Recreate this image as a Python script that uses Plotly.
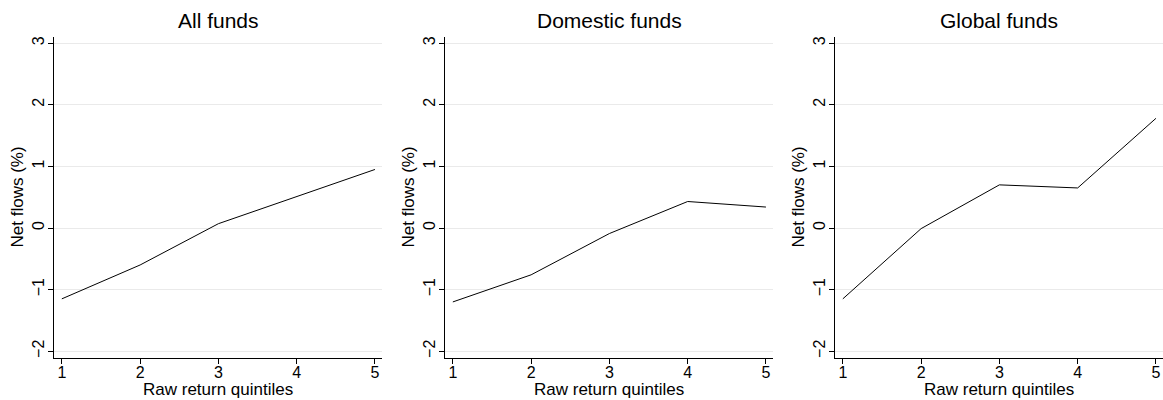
import plotly.graph_objects as go

quintiles = [1, 2, 3, 4, 5]
all_funds = [-1.15, -0.60, 0.07, 0.51, 0.95]
domestic_funds = [-1.20, -0.76, -0.09, 0.43, 0.34]
global_funds = [-1.15, -0.01, 0.70, 0.65, 1.78]
titles = ["All funds", "Domestic funds", "Global funds"]
y_ticks = [-2, -1, 0, 1, 2, 3]
x_ticks = [1, 2, 3, 4, 5]
x_title = "Raw return quintiles"
y_title = "Net flows (%)"

W, H = 1163, 400
panels = [(54, 382), (445, 773), (835, 1163)]
y_top, y_bot = 37, 358
FONT = "Liberation Sans, Arial, sans-serif"

fig = go.Figure()
series = [all_funds, domestic_funds, global_funds]
for i, (vals, title, (x0, x1)) in enumerate(zip(series, titles, panels)):
    n = "" if i == 0 else str(i + 1)
    fig.add_trace(go.Scatter(x=quintiles, y=vals, mode="lines",
                             line=dict(color="black", width=1),
                             xaxis="x" + n, yaxis="y" + n, showlegend=False,
                             hoverinfo="skip"))
    fig.layout["xaxis" + n] = dict(
        domain=[x0 / W, x1 / W], range=[0.9, 5.09], tickvals=x_ticks,
        showgrid=False, zeroline=False, showline=True, linecolor="black", linewidth=1,
        ticks="outside", ticklen=5, tickcolor="black", ticklabelstandoff=-5,
        tickfont=dict(size=16, color="black"),
        anchor="y" + n)
    fig.layout["yaxis" + n] = dict(
        domain=[1 - y_bot / H, 1 - y_top / H], range=[-2.11, 3.10], tickvals=y_ticks,
        showgrid=True, gridcolor="#eaeaea", gridwidth=1, zeroline=False,
        showline=True, linecolor="black", linewidth=1,
        ticks="outside", ticklen=5, tickcolor="black", tickangle=-90,
        ticklabelstandoff=-2,
        tickfont=dict(size=16, color="black"),
        anchor="x" + n)
    fig.add_annotation(text=title, x=(x0 + x1) / 2 / W, y=1 - 20 / H,
                       xref="paper", yref="paper", showarrow=False,
                       font=dict(size=21, color="black"), xanchor="center", yanchor="middle")
    fig.add_annotation(text=x_title, x=(x0 + x1) / 2 / W, y=1 - 389 / H,
                       xref="paper", yref="paper", showarrow=False,
                       font=dict(size=17, color="black"), xanchor="center", yanchor="middle")
    fig.add_annotation(text=y_title, x=(x0 - 37) / W, y=1 - ((y_top + y_bot) / 2) / H,
                       xref="paper", yref="paper", showarrow=False, textangle=-90,
                       font=dict(size=17, color="black"), xanchor="center", yanchor="middle")

fig.update_layout(width=W, height=H, margin=dict(l=0, r=0, t=0, b=0),
                  plot_bgcolor="white", paper_bgcolor="white",
                  font=dict(family=FONT, color="black"))
fig.write_html("out.html", config={"displayModeBar": False},
               post_script="document.body.style.margin='0';")
